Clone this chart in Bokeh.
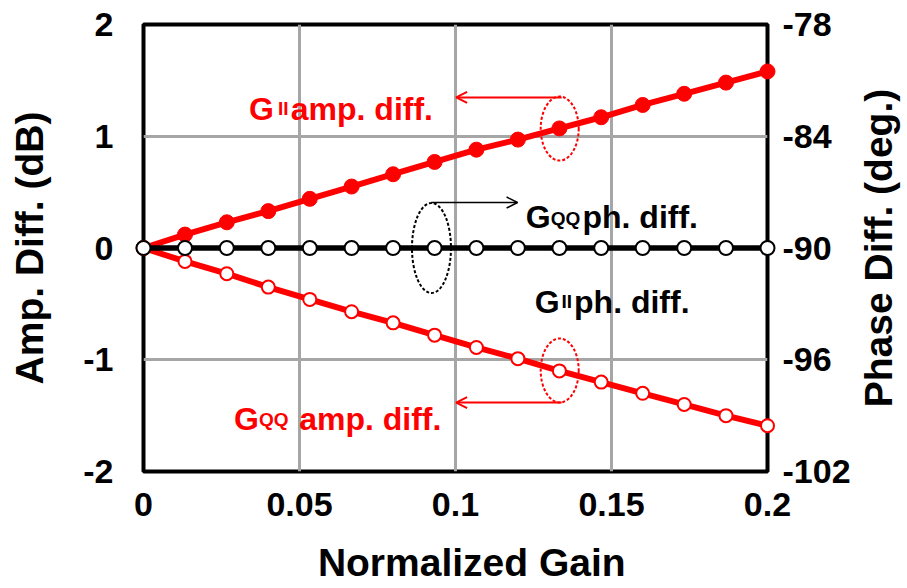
from bokeh.plotting import figure
from bokeh.layouts import row
from bokeh.models import Range1d, LinearAxis, FixedTicker, Label, Arrow, OpenHead
from bokeh.embed import file_html
from bokeh.resources import INLINE

# ---------------- data ----------------
gain = [0, 0.0133, 0.0267, 0.04, 0.0533, 0.0667, 0.08, 0.0933, 0.1067, 0.12,
        0.1333, 0.1467, 0.16, 0.1733, 0.1867, 0.2]
gii_amp = [0, 0.12, 0.23, 0.33, 0.44, 0.55, 0.66, 0.77, 0.88, 0.97,
           1.07, 1.17, 1.28, 1.38, 1.48, 1.58]
gqq_amp = [0, -0.12, -0.23, -0.35, -0.46, -0.57, -0.67, -0.78, -0.89, -0.99,
           -1.10, -1.20, -1.30, -1.40, -1.50, -1.59]
gii_ph = [-90, -90, -90, -90, -90, -90, -90, -90, -90, -90,
          -90, -90, -90, -90, -90, -90]
gqq_ph = [-90, -90, -90, -90, -90, -90, -90, -90, -90, -90,
          -90, -90, -90, -90, -90, -90]

x_ticks = [0, 0.05, 0.1, 0.15, 0.2]
x_tick_labels = ["0", "0.05", "0.1", "0.15", "0.2"]
amp_ticks = [-2, -1, 0, 1, 2]
amp_tick_labels = ["-2", "-1", "0", "1", "2"]
ph_ticks = [-102, -96, -90, -84, -78]
ph_tick_labels = ["-102", "-96", "-90", "-84", "-78"]

FONT = "Liberation Sans"
RED = "#FF0000"

W, H = 853, 588
p = figure(width=W, height=H, x_range=Range1d(0, 0.2), y_range=Range1d(-2, 2),
           output_backend="svg", toolbar_location=None,
           min_border_left=143, min_border_right=W - 770, min_border_top=24,
           min_border_bottom=H - 471)
p.extra_y_ranges = {"phase": Range1d(-102, -78)}

p.outline_line_color = "black"
p.outline_line_width = 4
p.background_fill_color = "white"
p.border_fill_color = "white"

# grid
for g in (p.xgrid, p.ygrid):
    g.grid_line_color = "#A6A6A6"
    g.grid_line_width = 3
p.xgrid.ticker = FixedTicker(ticks=x_ticks)
p.ygrid.ticker = FixedTicker(ticks=amp_ticks)

# axes
p.xaxis.ticker = FixedTicker(ticks=x_ticks)
p.xaxis.major_label_overrides = {t: s for t, s in zip(x_ticks, x_tick_labels)}
p.xaxis.axis_label = "\u00a0\u00a0\u00a0Normalized Gain"
p.yaxis.ticker = FixedTicker(ticks=amp_ticks)
p.yaxis.major_label_overrides = {t: s for t, s in zip(amp_ticks, amp_tick_labels)}
p.yaxis.axis_label = "Amp. Diff. (dB)"

raxis = LinearAxis(y_range_name="phase", ticker=FixedTicker(ticks=ph_ticks))
raxis.major_label_overrides = {t: s for t, s in zip(ph_ticks, ph_tick_labels)}
p.add_layout(raxis, "right")

for ax in (p.xaxis[0], p.yaxis[0], raxis):
    ax.axis_line_color = None
    ax.major_tick_line_color = None
    ax.minor_tick_line_color = None
    ax.major_tick_out = 0
    ax.major_tick_in = 0
    ax.major_label_text_font = FONT
    ax.major_label_text_font_style = "bold"
    ax.major_label_text_font_size = "34px"
    ax.major_label_text_color = "black"
    ax.axis_label_text_font = FONT
    ax.axis_label_text_font_style = "bold"
    ax.axis_label_text_font_size = "39px"
    ax.axis_label_text_color = "black"

p.yaxis[0].major_label_standoff = 30
p.yaxis[0].axis_label_standoff = 29
p.xaxis[0].major_label_standoff = 21
p.xaxis[0].axis_label_standoff = 22
raxis.major_label_standoff = 15

# series
r1 = p.line(gain, gii_amp, line_color=RED, line_width=6)
r2 = p.scatter(gain, gii_amp, size=15, marker="circle", fill_color=RED, line_color=RED)
r3 = p.line(gain, gqq_amp, line_color=RED, line_width=6)
r4 = p.scatter(gain, gqq_amp, size=13, marker="circle", fill_color="white", line_color=RED, line_width=2)
r5 = p.line(gain, gqq_ph, line_color="black", line_width=5, y_range_name="phase")
r6 = p.line(gain, gii_ph, line_color="black", line_width=5, y_range_name="phase")
r7 = p.scatter(gain, gii_ph, size=14, marker="circle", fill_color="white", line_color="black",
               line_width=2, y_range_name="phase")
for r in (r1, r2, r3, r4, r5, r6, r7):
    r.level = "overlay"

# annotations: dashed ellipses
p.ellipse(x=[0.1334, 0.1334], y=[1.069, -1.096], width=38, height=64,
          width_units="screen", height_units="screen",
          fill_color=None, line_color=RED, line_width=2, line_dash="3 2")
p.ellipse(x=[0.0923], y=[0.0], width=39, height=90,
          width_units="screen", height_units="screen",
          fill_color=None, line_color="black", line_width=2, line_dash="3 2")

# arrows
p.add_layout(Arrow(x_start=0.134, y_start=1.347, x_end=0.1002, y_end=1.347,
                   line_color=RED, line_width=2,
                   end=OpenHead(size=11, line_color=RED, line_width=2)))
p.add_layout(Arrow(x_start=0.134, y_start=-1.383, x_end=0.1002, y_end=-1.383,
                   line_color=RED, line_width=2,
                   end=OpenHead(size=11, line_color=RED, line_width=2)))
p.add_layout(Arrow(x_start=0.0922, y_start=0.407, x_end=0.1199, y_end=0.407,
                   line_color="black", line_width=1.5,
                   end=OpenHead(size=11, line_color="black", line_width=1.5)))


def lab(x, y, text, color, size):
    p.add_layout(Label(x=x, y=y, text=text, text_color=color, text_font=FONT,
                       text_font_style="bold", text_font_size=size,
                       text_align="left", text_baseline="alphabetic"))


# G_II amp. diff.
lab(0.0338, 1.248, "G", RED, "32px")
lab(0.0431, 1.248, "II", RED, "19px")
lab(0.0472, 1.248, "amp. diff.", RED, "32px")
# G_QQ amp. diff.
lab(0.0290, -1.526, "G", RED, "32px")
lab(0.0370, -1.537, "QQ", RED, "19px")
lab(0.0499, -1.526, "amp. diff.", RED, "32px")
# G_QQ ph. diff.
lab(0.1225, 0.273, "G", "black", "32px")
lab(0.1305, 0.262, "QQ", "black", "19px")
lab(0.1407, 0.273, "ph. diff.", "black", "32px")
# G_II ph. diff.
lab(0.1254, -0.479, "G", "black", "32px")
lab(0.1340, -0.479, "II", "black", "19px")
lab(0.1380, -0.479, "ph. diff.", "black", "32px")

# narrow companion figure carrying the right-hand axis title (reads bottom-to-top)
p2 = figure(width=50, height=H, x_range=Range1d(0, 1), y_range=Range1d(0, 1),
            output_backend="svg", toolbar_location=None,
            min_border_left=0, min_border_right=0, min_border_top=24,
            min_border_bottom=H - 471)
p2.scatter([0.5], [0.5], size=1, alpha=0)
p2.outline_line_color = None
p2.xgrid.visible = False
p2.ygrid.visible = False
p2.xaxis.visible = False
p2.background_fill_color = "white"
p2.border_fill_color = "white"
ya = p2.yaxis[0]
ya.ticker = FixedTicker(ticks=[])
ya.axis_line_color = None
ya.major_tick_line_color = None
ya.minor_tick_line_color = None
ya.major_tick_out = 0
ya.major_tick_in = 0
ya.major_label_standoff = 0
ya.axis_label = "Phase Diff. (deg.)"
ya.axis_label_standoff = 0
ya.axis_label_text_font = FONT
ya.axis_label_text_font_style = "bold"
ya.axis_label_text_font_size = "39px"
ya.axis_label_text_color = "black"

open("out.html", "w").write(file_html(row(p, p2), INLINE))
